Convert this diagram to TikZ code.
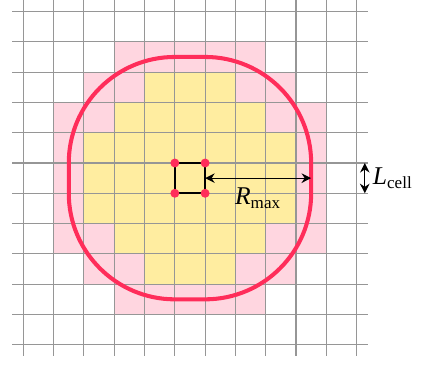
\documentclass[tikz,border=0pt]{standalone}
\usepackage{amsmath}
\usepackage{fontspec}
\setmainfont{Liberation Serif}
\usepackage{xcolor}
\usepackage{tikz}
\usetikzlibrary{arrows.meta,positioning}
\definecolor{reachc}{RGB}{255,45,90}
\definecolor{rimc}{RGB}{255,214,224}
\definecolor{corec}{RGB}{255,237,160}
\definecolor{gridc}{RGB}{150,150,150}
\newcommand{\sym}[2]{\textit{#1}$_\text{#2}$}

\begin{document}
\begin{tikzpicture}[
  x=5mm, y=5mm,
  >={Stealth[length=4.5pt,width=4.5pt]},
  gridl/.style={draw=gridc, line width=0.5pt, step=5mm},
  rim/.style={fill=rimc},
  core/.style={fill=corec},
  reach/.style={draw=reachc, line width=1.9pt},
  cellbox/.style={draw=black, line width=1pt, minimum size=5mm, inner sep=0pt, outer sep=0pt},
  vtx/.style={circle, fill=reachc, inner sep=0pt, minimum size=4.2pt},
  dim/.style={<->, line width=0.6pt},
  font=\large,
]
\useasboundingbox (-0.77,-0.64) rectangle (13.29,11.38);
% cells touched by the reach (rim) and fully inside (core)
\foreach \j/\a/\b in {1/3/8, 2/2/9, 3/1/10, 4/1/10, 5/1/10, 6/1/10, 7/1/10, 8/2/9, 9/3/8}
  \fill[rim] (\a,\j) rectangle (\b,\j+1);
\foreach \j/\a/\b in {2/4/7, 3/3/8, 4/2/9, 5/2/9, 6/2/9, 7/3/8, 8/4/7}
  \fill[core] (\a,\j) rectangle (\b,\j+1);
\draw[gridl] (-0.37,-0.37) grid (11.37,11.37);
% reach boundary: centre cell grown by R_max
\draw[reach] (5,1.5) -- (6,1.5) arc[start angle=-90, end angle=0, radius=17.5mm]
  -- (9.5,6) arc[start angle=0, end angle=90, radius=17.5mm]
  -- (5,9.5) arc[start angle=90, end angle=180, radius=17.5mm]
  -- (1.5,5) arc[start angle=180, end angle=270, radius=17.5mm] -- cycle;
\node[cellbox] (cell) at (5.5,5.5) {};
\foreach \c/\n in {north west/v1, north east/v2, south west/v3, south east/v4}
  \node[vtx] (\n) at (cell.\c) {};
% R_max
\coordinate (rout) at (9.5,5.5);
\draw[dim] (cell.east) -- (rout) coordinate[midway] (rmid);
\node[below=0.4mm of rmid] (rlab) {\sym{R}{max}};
% L_cell
\coordinate (ltop) at (11.27,6);
\coordinate (lbot) at (11.27,5);
\draw[dim] (ltop) -- (lbot) coordinate[midway] (lmid);
\node[right=0.1mm of lmid] (llab) {\sym{L}{cell}};
\end{tikzpicture}
\end{document}
